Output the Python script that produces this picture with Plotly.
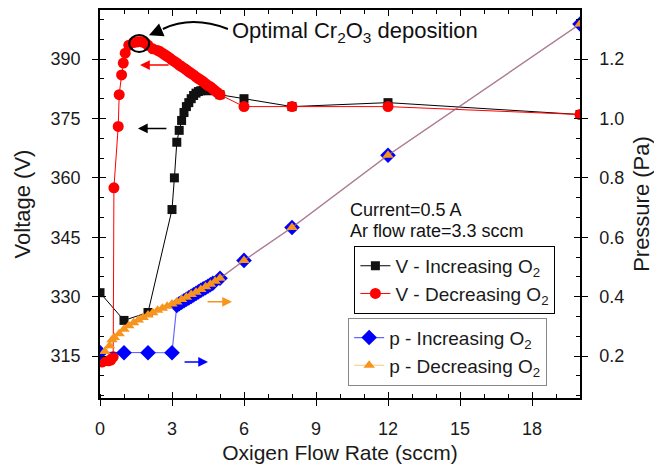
import plotly.graph_objects as go

# ---- data ----
x_v_inc = [0, 1, 2, 3, 3.1, 3.2, 3.3, 3.4, 3.5, 3.6, 3.7, 3.8, 3.9, 4.0, 4.1, 4.2, 4.3, 4.4, 4.5, 5, 6, 8, 12, 20]
v_inc = [331, 324, 326, 352, 360, 369, 372, 374.5, 376.5, 378, 379, 380, 380.8, 381.4, 381.8, 382, 382.1, 382.1, 382, 381, 380, 378, 379, 376]

x_v_dec = [20, 12, 8, 6, 5, 4.9, 4.8, 4.7, 4.6, 4.5, 4.4, 4.3, 4.2, 4.1, 4.0, 3.9, 3.8, 3.7, 3.6, 3.5,
           3.4, 3.3, 3.2, 3.1, 3.0, 2.9, 2.8, 2.7, 2.6, 2.5, 2.4, 2.2, 2.0, 1.9, 1.8, 1.7, 1.6, 1.5, 1.4,
           1.2, 1.05, 0.97, 0.9, 0.8, 0.76, 0.58, 0.55, 0.45, 0.35, 0.1, 0]
v_dec = [376, 378, 378, 378, 381, 381.5, 382, 382.5, 383, 383.3, 383.8, 384.3, 384.7, 385.1, 385.5, 386, 386.4, 386.8, 387.3, 387.7,
         388.1, 388.5, 389, 389.4, 389.8, 390.3, 390.7, 391.1, 391.5, 391.9, 392.2, 392.6, 393.5, 394, 394.3, 394.4, 394.4, 394.3, 394.2,
         393.5, 391.5, 389, 386, 381, 373, 357.5, 314.8, 314, 313.8, 313.5, 314]

x_p_inc = [0, 1, 2, 3, 3.2, 3.3, 3.4, 3.5, 3.6, 3.7, 3.8, 3.9, 4.0, 4.1, 4.2, 4.3, 4.4, 4.5, 4.6, 4.7, 5, 6, 8, 12, 20]
p_inc = [0.212, 0.211, 0.211, 0.211, 0.37, 0.376, 0.381, 0.386, 0.391, 0.396, 0.401, 0.406, 0.411, 0.416, 0.421, 0.426,
         0.43, 0.435, 0.44, 0.445, 0.462, 0.522, 0.633, 0.876, 1.318]

x_p_dec = [20, 12, 8, 6, 5, 4.8, 4.6, 4.4, 4.2, 4.0, 3.8, 3.6, 3.4, 3.2, 3.0, 2.8, 2.6, 2.4, 2.2, 2.0, 1.8, 1.6,
           1.4, 1.2, 1.0, 0.8, 0.6, 0.5, 0.4, 0.2]
p_dec = [1.318, 0.876, 0.633, 0.522, 0.462, 0.452, 0.442, 0.433, 0.424, 0.415, 0.407, 0.398, 0.39, 0.382, 0.375, 0.368,
         0.361, 0.354, 0.346, 0.338, 0.33, 0.321, 0.312, 0.302, 0.29, 0.275, 0.262, 0.255, 0.235, 0.215]

x_ticks = [0, 3, 6, 9, 12, 15, 18]
v_ticks = [315, 330, 345, 360, 375, 390]
p_ticks = [0.2, 0.4, 0.6, 0.8, 1.0, 1.2]
p_tick_text = ["0.2", "0.4", "0.6", "0.8", "1.0", "1.2"]

X_RANGE = [0, 20]
V_RANGE = [304.4, 402.4]
P_RANGE = [(V_RANGE[0] - 315) / 75 + 0.2, (V_RANGE[1] - 315) / 75 + 0.2]

FONT = "Liberation Sans, Arial, sans-serif"
TXT = "#1a1a1a"

fig = go.Figure()
fig.add_trace(go.Scatter(x=x_v_inc, y=v_inc, mode="lines+markers", name="V - Increasing O<sub>2</sub>",
                         line=dict(color="black", width=1), marker=dict(symbol="square", size=9, color="#111111"),
                         xaxis="x", yaxis="y", legend="legend"))
fig.add_trace(go.Scatter(x=x_v_dec, y=v_dec, mode="lines+markers", name="V - Decreasing O<sub>2</sub>",
                         line=dict(color="#ff0000", width=1), marker=dict(symbol="circle", size=11, color="#ff0000"),
                         xaxis="x", yaxis="y", legend="legend"))
fig.add_trace(go.Scatter(x=x_p_inc, y=p_inc, mode="lines+markers", name="p - Increasing O<sub>2</sub>",
                         line=dict(color="rgba(0,0,255,0.6)", width=1.2), marker=dict(symbol="diamond", size=12, color="#0000ff"),
                         xaxis="x", yaxis="y2", legend="legend2"))
fig.add_trace(go.Scatter(x=x_p_dec, y=p_dec, mode="lines+markers", name="p - Decreasing O<sub>2</sub>",
                         line=dict(color="rgba(247,148,29,0.55)", width=1.2), marker=dict(symbol="triangle-up", size=10, color="#F7941D"),
                         xaxis="x", yaxis="y2", legend="legend2"))

axis_common = dict(showgrid=False, zeroline=False, linecolor="black", linewidth=1.5, tickcolor="black",
                   automargin=False, tickfont=dict(family=FONT, size=18, color=TXT))
overlay_common = dict(showticklabels=False, showgrid=False, zeroline=False, tickcolor="black", automargin=False)

fig.update_layout(
    width=654, height=464,
    margin=dict(l=100, r=74, t=10, b=66),
    paper_bgcolor="white", plot_bgcolor="white",
    font=dict(family=FONT, color=TXT),
    xaxis=dict(range=X_RANGE, tickvals=x_ticks, ticks="outside", ticklen=6, showline=True, mirror=True,
               minor=dict(dtick=1, tick0=0, ticks="inside", ticklen=4, tickcolor="black"),
               ticklabelstandoff=8,
               title=dict(text="Oxigen Flow Rate (sccm)", font=dict(family=FONT, size=21, color=TXT), standoff=16),
               **axis_common),
    xaxis2=dict(range=X_RANGE, overlaying="x", side="bottom", tickvals=x_ticks, ticks="inside", ticklen=6,
                showline=True, mirror="ticks", linecolor="black", linewidth=1.5,
                minor=dict(dtick=1, tick0=0, ticks="inside", ticklen=4, tickcolor="black"), **overlay_common),
    yaxis=dict(range=V_RANGE, tickvals=v_ticks, ticks="outside", ticklen=6, showline=True,
               minor=dict(dtick=5, tick0=315, ticks="inside", ticklen=4, tickcolor="black"),
               ticklabelstandoff=8,
               title=dict(text="Voltage (V)", font=dict(family=FONT, size=22, color=TXT), standoff=14),
               **axis_common),
    yaxis3=dict(range=V_RANGE, overlaying="y", side="left", tickvals=v_ticks, ticks="inside", ticklen=6,
                showline=False, **overlay_common),
    yaxis2=dict(range=P_RANGE, overlaying="y", side="right", tickvals=p_ticks, ticktext=p_tick_text,
                ticks="outside", ticklen=6, showline=True,
                minor=dict(dtick=0.2 / 3, tick0=0.2, ticks="inside", ticklen=4, tickcolor="black"),
                ticklabelstandoff=8,
                title=dict(text="Pressure (Pa)", font=dict(family=FONT, size=22, color=TXT), standoff=10),
                **axis_common),
    yaxis4=dict(range=P_RANGE, overlaying="y", side="right", tickvals=p_ticks, ticks="inside", ticklen=6,
                showline=False, **overlay_common),
    legend=dict(x=0.53, y=0.392, xanchor="left", yanchor="top", bordercolor="black", borderwidth=1,
                bgcolor="white", font=dict(family=FONT, size=19, color=TXT), tracegroupgap=0),
    legend2=dict(x=0.517, y=0.207, xanchor="left", yanchor="top", bordercolor="#888", borderwidth=1,
                 bgcolor="white", font=dict(family=FONT, size=19, color=TXT), tracegroupgap=0),
)

# dummy traces on overlay axes so they render
fig.add_trace(go.Scatter(x=[None], y=[None], xaxis="x2", yaxis="y3", showlegend=False, hoverinfo="skip"))
fig.add_trace(go.Scatter(x=[None], y=[None], xaxis="x2", yaxis="y4", showlegend=False, hoverinfo="skip"))

# ---- annotations ----
fig.add_shape(type="circle", xref="x", yref="y", x0=1.22, x1=2.05, y0=391.8, y1=396.1,
              line=dict(color="black", width=2))
fig.add_shape(type="path", xref="x", yref="y", path="M 5.33,397.6 Q 3.83,401.1 2.62,397.6",
              line=dict(color="black", width=2))
fig.add_annotation(x=2.04, y=396.0, xref="x", yref="y", ax=14, ay=-6, text="", showarrow=True,
                   arrowhead=2, arrowsize=1.4, arrowwidth=2, arrowcolor="black")
fig.add_annotation(x=5.42, y=396.9, xref="x", yref="y", xanchor="left", yanchor="middle", showarrow=False,
                   text="Optimal Cr<sub>2</sub>O<sub>3</sub> deposition", font=dict(family=FONT, size=22, color="#111"))

fig.add_annotation(x=10.33, y=352.0, xref="x", yref="y", xanchor="left", showarrow=False,
                   text="Current=0.5 A", font=dict(family=FONT, size=18, color="#111"))
fig.add_annotation(x=10.33, y=346.6, xref="x", yref="y", xanchor="left", showarrow=False,
                   text="Ar flow rate=3.3 sccm", font=dict(family=FONT, size=18, color="#111"))

# direction arrows (head at x,y ; tail at ax,ay)
for (hx, tx, yy, col) in [(1.67, 2.92, 388.5, "#ff0000"), (1.58, 2.83, 372.5, "black"),
                          (5.5, 4.42, 328.7, "#F7941D"), (4.5, 3.46, 313.5, "#0000ff")]:
    fig.add_annotation(x=hx, y=yy, ax=tx, ay=yy, xref="x", yref="y", axref="x", ayref="y", text="",
                       showarrow=True, arrowhead=2, arrowsize=1.3, arrowwidth=1.5, arrowcolor=col)

fig.write_html("out.html")
